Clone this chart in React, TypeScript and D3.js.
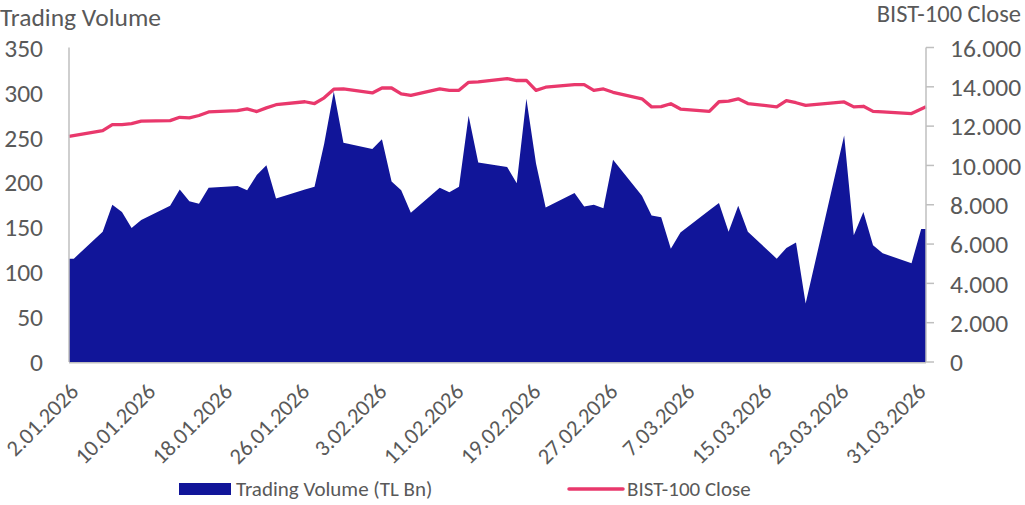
import React, { useEffect, useRef } from 'react';
import * as d3 from 'd3';

// trading days (BIST), Jan-Mar 2026
const tradingDates: string[] = [
  '2026-01-02', '2026-01-05', '2026-01-06', '2026-01-07', '2026-01-08', '2026-01-09',
  '2026-01-12', '2026-01-13', '2026-01-14', '2026-01-15', '2026-01-16',
  '2026-01-19', '2026-01-20', '2026-01-21', '2026-01-22', '2026-01-23',
  '2026-01-26', '2026-01-27', '2026-01-28', '2026-01-29', '2026-01-30',
  '2026-02-02', '2026-02-03', '2026-02-04', '2026-02-05', '2026-02-06',
  '2026-02-09', '2026-02-10', '2026-02-11', '2026-02-12', '2026-02-13',
  '2026-02-16', '2026-02-17', '2026-02-18', '2026-02-19', '2026-02-20',
  '2026-02-23', '2026-02-24', '2026-02-25', '2026-02-26', '2026-02-27',
  '2026-03-02', '2026-03-03', '2026-03-04', '2026-03-05', '2026-03-06',
  '2026-03-09', '2026-03-10', '2026-03-11', '2026-03-12', '2026-03-13',
  '2026-03-16', '2026-03-17', '2026-03-18', '2026-03-19',
  '2026-03-23', '2026-03-24', '2026-03-25', '2026-03-26', '2026-03-27',
  '2026-03-30', '2026-03-31',
];

// Trading Volume (TL Bn)
const tradingVolume: number[] = [
  115, 145, 175, 167, 149, 158,
  174, 192, 179, 176, 194,
  196, 191, 208, 219, 182,
  192, 195, 243, 301, 244,
  237, 248, 201, 191, 166,
  194, 189, 195, 274, 222,
  217, 199, 293, 221, 172,
  188, 173, 175, 171, 225,
  185, 163, 161, 126, 144,
  169, 177, 145, 174, 145,
  115, 127, 133, 65,
  252, 141, 167, 130, 121,
  110, 148,
];

// BIST-100 Close
const bistClose: number[] = [
  11480, 11770, 12080, 12080, 12130, 12250,
  12280, 12450, 12420, 12540, 12720,
  12790, 12880, 12740, 12930, 13090,
  13240, 13150, 13440, 13880, 13890,
  13690, 13940, 13940, 13640, 13570,
  13890, 13820, 13820, 14230, 14250,
  14420, 14320, 14330, 13820, 13980,
  14110, 14110, 13820, 13890, 13720,
  13390, 12980, 12990, 13140, 12870,
  12750, 13240, 13270, 13390, 13150,
  12980, 13300, 13190, 13060,
  13230, 12980, 13010, 12750, 12720,
  12640, 12980,
];

const xTickDates: string[] = [
  '2026-01-02', '2026-01-10', '2026-01-18', '2026-01-26', '2026-02-03', '2026-02-11',
  '2026-02-19', '2026-02-27', '2026-03-07', '2026-03-15', '2026-03-23', '2026-03-31',
];
const leftTicks: number[] = [0, 50, 100, 150, 200, 250, 300, 350];
const rightTicks: number[] = [0, 2000, 4000, 6000, 8000, 10000, 12000, 14000, 16000];

const seriesNames = ['Trading Volume (TL Bn)', 'BIST-100 Close'];
const axisTitles = ['Trading Volume', 'BIST-100 Close'];

const WIDTH = 1025;
const HEIGHT = 505;
const FONT = 'Calibri, Carlito, Lato, sans-serif';
const TEXT = '#595959';
const GRID = '#BFBFBF';
const BLUE = '#111599';
const PINK = '#E9386C';

const App = () => {
  const svgRef = useRef<SVGSVGElement | null>(null);

  useEffect(() => {
    const svg = d3.select(svgRef.current);
    svg.selectAll('*').remove();

    const margin = { top: 47.5, right: 99, bottom: 143, left: 69 };
    const plotRight = WIDTH - margin.right;
    const plotBottom = HEIGHT - margin.bottom;

    const parse = d3.utcParse('%Y-%m-%d');
    const dates = tradingDates.map(d => parse(d) as Date);
    const HALF_DAY = 12 * 3600 * 1000;

    // date axis, points sit in the middle of each day
    const x = d3.scaleUtc()
      .domain([new Date(+dates[0] - HALF_DAY), new Date(+dates[dates.length - 1] + HALF_DAY)])
      .range([margin.left, plotRight]);

    const yLeft = d3.scaleLinear().domain([0, 350]).range([plotBottom, margin.top]);
    const yRight = d3.scaleLinear().domain([0, 16000]).range([plotBottom, margin.top]);

    const rows = dates.map((d, i) => ({ px: x(d), vol: tradingVolume[i], close: bistClose[i] }));
    const [x0, x1] = x.range();

    // area runs flat to the plot edges
    const areaRows = [{ ...rows[0], px: x0 }, ...rows, { ...rows[rows.length - 1], px: x1 }];
    const area = d3.area<any>()
      .x(d => d.px)
      .y0(plotBottom)
      .y1(d => yLeft(d.vol));

    svg.append('path')
      .datum(areaRows)
      .attr('fill', BLUE)
      .attr('d', area);

    // line ends at the plot edges
    const lineRows = rows.map((r, i) =>
      i === 0 ? { ...r, px: x0 } : i === rows.length - 1 ? { ...r, px: x1 } : r);
    const line = d3.line<any>()
      .x(d => d.px)
      .y(d => yRight(d.close));

    svg.append('path')
      .datum(lineRows)
      .attr('fill', 'none')
      .attr('stroke', PINK)
      .attr('stroke-width', 3.3)
      .attr('stroke-linejoin', 'round')
      .attr('d', line);

    // axis lines
    svg.append('line')
      .attr('x1', margin.left).attr('x2', margin.left)
      .attr('y1', margin.top).attr('y2', plotBottom)
      .attr('stroke', GRID).attr('stroke-width', 1.5);
    svg.append('line')
      .attr('x1', plotRight).attr('x2', plotRight)
      .attr('y1', margin.top).attr('y2', plotBottom)
      .attr('stroke', GRID).attr('stroke-width', 1.5);
    svg.append('line')
      .attr('x1', margin.left).attr('x2', plotRight)
      .attr('y1', plotBottom + 0.75).attr('y2', plotBottom + 0.75)
      .attr('stroke', GRID).attr('stroke-width', 1.5);

    // left axis labels
    svg.append('g')
      .selectAll('text')
      .data(leftTicks)
      .enter()
      .append('text')
      .attr('x', 43)
      .attr('y', d => yLeft(d))
      .attr('dy', '0.36em')
      .attr('text-anchor', 'end')
      .attr('fill', TEXT)
      .style('font-family', FONT)
      .style('font-size', '25.5px')
      .text(d => d);

    // right axis ticks + labels
    const fmt = d3.formatLocale({ decimal: ',', thousands: '.', grouping: [3], currency: ['', ''] }).format(',');
    const right = svg.append('g');
    right.selectAll('line')
      .data(rightTicks)
      .enter()
      .append('line')
      .attr('x1', plotRight).attr('x2', plotRight + 8)
      .attr('y1', d => yRight(d)).attr('y2', d => yRight(d))
      .attr('stroke', GRID).attr('stroke-width', 1.5);
    right.selectAll('text')
      .data(rightTicks)
      .enter()
      .append('text')
      .attr('x', plotRight + 24)
      .attr('y', d => yRight(d))
      .attr('dy', '0.36em')
      .attr('fill', TEXT)
      .style('font-family', FONT)
      .style('font-size', '25.5px')
      .text(d => fmt(d));

    // date labels, rotated
    const dateFmt = d3.utcFormat('%-d.%m.%Y');
    svg.append('g')
      .selectAll('text')
      .data(xTickDates.map(d => parse(d) as Date))
      .enter()
      .append('text')
      .attr('transform', d => `translate(${x(d) + 6},${plotBottom + 31}) rotate(-45)`)
      .attr('text-anchor', 'end')
      .attr('fill', TEXT)
      .style('font-family', FONT)
      .style('font-size', '22.5px')
      .text(d => dateFmt(d));

    // axis titles
    svg.append('text')
      .attr('x', 0)
      .attr('y', 26)
      .attr('fill', TEXT)
      .style('font-family', FONT)
      .style('font-size', '25.5px')
      .text(axisTitles[0]);
    svg.append('text')
      .attr('x', 1021)
      .attr('y', 22)
      .attr('text-anchor', 'end')
      .attr('fill', TEXT)
      .style('font-family', FONT)
      .style('font-size', '24.5px')
      .text(axisTitles[1]);

    // legend
    const legend = svg.append('g');
    legend.append('rect')
      .attr('x', 179).attr('y', 483)
      .attr('width', 52).attr('height', 12)
      .attr('fill', BLUE);
    legend.append('text')
      .attr('x', 236).attr('y', 496)
      .attr('fill', TEXT)
      .style('font-family', FONT)
      .style('font-size', '21px')
      .text(seriesNames[0]);
    legend.append('line')
      .attr('x1', 569).attr('x2', 623)
      .attr('y1', 489).attr('y2', 489)
      .attr('stroke', PINK).attr('stroke-width', 3.5)
      .attr('stroke-linecap', 'round');
    legend.append('text')
      .attr('x', 627).attr('y', 496)
      .attr('fill', TEXT)
      .style('font-family', FONT)
      .style('font-size', '21px')
      .text(seriesNames[1]);
  }, []);

  return (
    <svg
      ref={svgRef}
      width={WIDTH}
      height={HEIGHT}
      style={{ position: 'absolute', left: 0, top: 0, background: '#fff' }}
    />
  );
};

export default App;
